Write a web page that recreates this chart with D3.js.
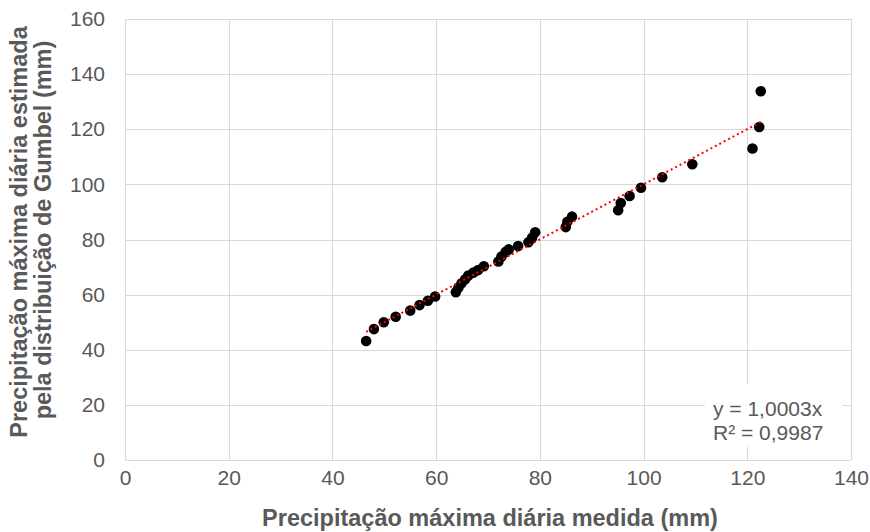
<!DOCTYPE html>
<html>
<head>
<meta charset="utf-8">
<script src="https://cdn.jsdelivr.net/npm/d3@7"></script>
<style>
  html, body { margin: 0; padding: 0; background: #fff; }
  svg { display: block; font-family: "Liberation Sans", Arial, sans-serif; }
</style>
</head>
<body>
<svg id="chart" width="870" height="532"></svg>
<script>
// Measured precipitation (mm) - x
const measured = [46.5, 48.0, 49.9, 52.2, 55.0, 56.8, 58.4, 59.8, 63.8, 64.3, 64.9, 65.6,
  66.2, 67.2, 68.1, 69.2, 72.0, 72.6, 73.4, 74.0, 75.8, 77.8, 78.5, 79.1,
  85.0, 85.3, 86.2, 95.1, 95.6, 97.3, 99.5, 103.6, 109.4, 121.0, 122.3, 122.6];
// Gumbel estimated precipitation (mm) - y
const estimated = [43.2, 47.5, 50.0, 52.0, 54.2, 56.2, 57.8, 59.3, 60.9, 62.6, 64.1, 65.6,
  66.9, 68.0, 68.9, 70.3, 72.0, 73.8, 75.5, 76.4, 77.6, 79.0, 80.6, 82.6,
  84.5, 86.4, 88.3, 90.6, 93.2, 95.8, 98.8, 102.6, 107.3, 113.0, 120.8, 133.8];
const slope = 1.0003;
const equationLines = ["y = 1,0003x", "R² = 0,9987"];
const xTicks = [0, 20, 40, 60, 80, 100, 120, 140];
const yTicks = [0, 20, 40, 60, 80, 100, 120, 140, 160];
const xTitle = "Precipitação máxima diária medida (mm)";
const yTitleLines = ["Precipitação máxima diária estimada", "pela distribuição de Gumbel (mm)"];

const svg = d3.select("#chart");
const L = 125, R = 851, T = 19, B = 460;
const x = d3.scaleLinear().domain([0, 140]).range([L, R]);
const y = d3.scaleLinear().domain([0, 160]).range([B, T]);
const grid = "#d9d9d9", txt = "#595959";

// Gridlines via axes
const gx = svg.append("g").attr("transform", `translate(0,${B})`)
  .call(d3.axisBottom(x).tickValues(xTicks).tickSize(-(B - T)).tickFormat(d => d).tickPadding(10));
const gy = svg.append("g").attr("transform", `translate(${L},0)`)
  .call(d3.axisLeft(y).tickValues(yTicks).tickSize(-(R - L)).tickFormat(d => d).tickPadding(20));
[gx, gy].forEach(g => {
  g.select(".domain").remove();
  g.selectAll(".tick line").attr("stroke", grid).attr("stroke-width", 1).attr("shape-rendering", "crispEdges");
  g.selectAll(".tick text").attr("fill", txt).style("font-size", "21px").style("font-family", "'Liberation Sans', Arial, sans-serif");
});
gx.selectAll(".tick text").attr("dy", "0.71em");

// Points
const data = measured.map((m, i) => ({ m, e: estimated[i] }));
svg.append("g").selectAll("circle").data(data).join("circle")
  .attr("cx", d => x(d.m)).attr("cy", d => y(d.e)).attr("r", 5.3).attr("fill", "#000");

// Trendline
const xmin = d3.min(measured), xmax = d3.max(measured);
svg.append("line")
  .attr("x1", x(xmin)).attr("y1", y(slope * xmin))
  .attr("x2", x(xmax)).attr("y2", y(slope * xmax))
  .attr("stroke", "#ff0000").attr("stroke-width", 2).attr("stroke-dasharray", "2,3");

// Equation box
svg.append("rect").attr("x", 705).attr("y", 384).attr("width", 137).attr("height", 63).attr("fill", "#fff");
svg.append("g").selectAll("text").data(equationLines).join("text")
  .attr("x", 713).attr("y", (d, i) => 416 + i * 24)
  .attr("fill", txt).style("font-size", "21px").text(d => d);

// Axis titles
svg.append("text").attr("x", (L + R) / 2 + 2).attr("y", 526).attr("text-anchor", "middle")
  .attr("fill", txt).style("font-size", "23.5px").style("font-weight", "bold").text(xTitle);
svg.append("g").selectAll("text").data(yTitleLines).join("text")
  .attr("transform", (d, i) => `translate(${27 + i * 24},${232 - i * 2}) rotate(-90)`)
  .attr("text-anchor", "middle").attr("fill", txt)
  .style("font-size", "23.5px").style("font-weight", "bold").text(d => d);
</script>
</body>
</html>
